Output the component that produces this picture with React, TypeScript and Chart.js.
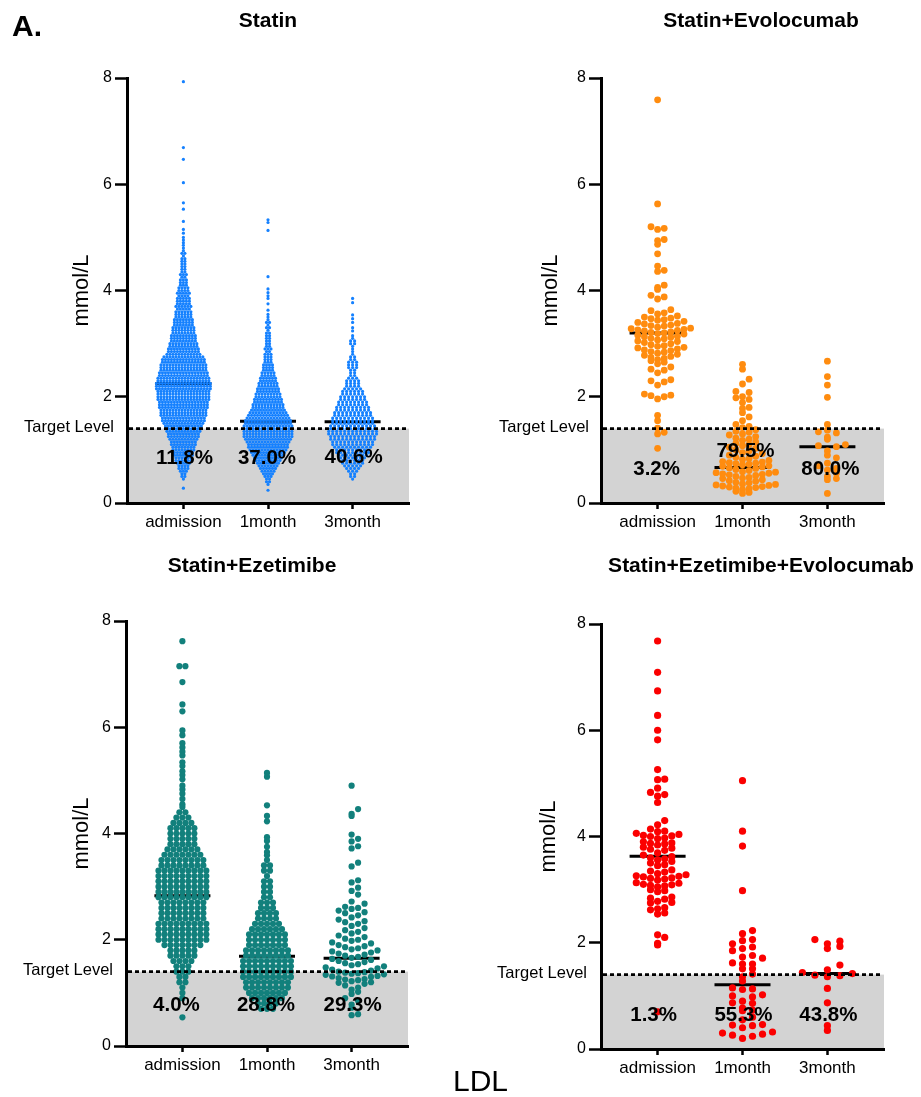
import React, { useEffect, useRef } from 'react';
import { Chart, registerables } from 'chart.js';

Chart.register(...registerables);

const FONT = '"Liberation Sans", Arial, Helvetica, sans-serif';

// ---------- shared axis data ----------
const categories = ['admission', '1month', '3month'];
const yTickValues = [0, 2, 4, 6, 8];
const targetLevel = 1.4;
const panelTitles = ['Statin', 'Statin+Evolocumab', 'Statin+Ezetimibe', 'Statin+Ezetimibe+Evolocumab'];

// ---------- Statin (dense: [value mmol/L, number of dots at that level]) ----------
const statinAdmission: [number, number][] = [
  [7.93, 1], [6.69, 1], [6.47, 1], [6.03, 1], [5.65, 1], [5.53, 1], [5.3, 1], [5.15, 1], [5.08, 1], [5.0, 1], [4.95, 1], [4.9, 1], [4.85, 1],
  [4.8, 1], [4.75, 1], [4.7, 2], [4.65, 1], [4.6, 2], [4.55, 2], [4.5, 2], [4.45, 2], [4.4, 2], [4.35, 2], [4.3, 3], [4.25, 2], [4.2, 3],
  [4.15, 3], [4.1, 3], [4.05, 4], [4.0, 4], [3.95, 5], [3.9, 4], [3.85, 5], [3.8, 5], [3.75, 5], [3.7, 6], [3.65, 5], [3.6, 6], [3.55, 6],
  [3.5, 6], [3.45, 7], [3.4, 7], [3.35, 7], [3.3, 8], [3.25, 8], [3.2, 8], [3.15, 9], [3.1, 9], [3.05, 9], [3.0, 10], [2.95, 10], [2.9, 11],
  [2.85, 11], [2.8, 12], [2.75, 14], [2.7, 15], [2.65, 15], [2.6, 16], [2.55, 16], [2.5, 16], [2.45, 17], [2.4, 17], [2.35, 18], [2.3, 18],
  [2.25, 19], [2.2, 19], [2.15, 19], [2.1, 18], [2.05, 18], [2.0, 18], [1.95, 18], [1.9, 17], [1.85, 17], [1.8, 17], [1.75, 16], [1.7, 16],
  [1.65, 16], [1.6, 15], [1.55, 15], [1.5, 14], [1.45, 13], [1.4, 13], [1.35, 12], [1.3, 11], [1.25, 11], [1.2, 10], [1.15, 9], [1.1, 9],
  [1.05, 8], [1.0, 8], [0.95, 7], [0.9, 7], [0.85, 6], [0.8, 6], [0.75, 5], [0.7, 4], [0.65, 4], [0.6, 3], [0.55, 2], [0.5, 2], [0.45, 1], [0.28, 1],
];
const statin1Month: [number, number][] = [
  [5.33, 1], [5.28, 1], [5.13, 1], [4.26, 1], [4.03, 1], [3.96, 1], [3.9, 1], [3.85, 1], [3.75, 1], [3.63, 1], [3.55, 1],
  [3.5, 1], [3.45, 1], [3.4, 2], [3.35, 1], [3.3, 2], [3.25, 1], [3.2, 2], [3.15, 2], [3.1, 2], [3.05, 2], [3.0, 2], [2.95, 2], [2.9, 3],
  [2.85, 2], [2.8, 3], [2.75, 3], [2.7, 3], [2.65, 3], [2.6, 4], [2.55, 4], [2.5, 4], [2.45, 5], [2.4, 5], [2.35, 6], [2.3, 6], [2.25, 7],
  [2.2, 7], [2.15, 8], [2.1, 8], [2.05, 9], [2.0, 9], [1.95, 10], [1.9, 10], [1.85, 11], [1.8, 11], [1.75, 12], [1.7, 13], [1.65, 14],
  [1.6, 15], [1.55, 16], [1.5, 16], [1.45, 17], [1.4, 17], [1.35, 17], [1.3, 17], [1.25, 17], [1.2, 16], [1.15, 15], [1.1, 14], [1.05, 14],
  [1.0, 13], [0.95, 12], [0.9, 11], [0.85, 10], [0.8, 9], [0.75, 8], [0.7, 7], [0.65, 6], [0.6, 5], [0.55, 4], [0.5, 3], [0.45, 2],
  [0.4, 2], [0.35, 1], [0.24, 1],
];
const statin3Month: [number, number][] = [
  [3.85, 1], [3.77, 1], [3.54, 1], [3.47, 1], [3.4, 1], [3.3, 1], [3.24, 1], [3.15, 1], [3.1, 1], [3.05, 2], [3.0, 2], [2.95, 1], [2.9, 1],
  [2.85, 1], [2.8, 1], [2.75, 2], [2.7, 2], [2.65, 3], [2.6, 3], [2.55, 3], [2.5, 2], [2.45, 2], [2.4, 2], [2.35, 3], [2.3, 4], [2.25, 4],
  [2.2, 4], [2.15, 5], [2.1, 6], [2.05, 6], [2.0, 7], [1.95, 7], [1.9, 8], [1.85, 8], [1.8, 9], [1.75, 9], [1.7, 10], [1.65, 10], [1.6, 11],
  [1.55, 11], [1.5, 11], [1.45, 12], [1.4, 12], [1.35, 13], [1.3, 13], [1.25, 12], [1.2, 12], [1.15, 11], [1.1, 11], [1.05, 10], [1.0, 9],
  [0.95, 9], [0.9, 8], [0.85, 7], [0.8, 6], [0.75, 6], [0.7, 5], [0.65, 4], [0.6, 3], [0.55, 2], [0.5, 2], [0.45, 1],
];
const statinMedians = [2.25, 1.54, 1.53];
const statinPercents = ['11.8%', '37.0%', '40.6%'];

// ---------- Statin+Evolocumab (individual values) ----------
const evoAdmission = [
  7.59, 5.63, 5.2, 5.17, 5.15, 4.96, 4.94, 4.87, 4.69, 4.46, 4.38, 4.36, 4.1, 4.06, 4.02, 3.91, 3.88, 3.84, 3.64, 3.62, 3.58, 3.56,
  3.52, 3.5, 3.48, 3.47, 3.45, 3.44, 3.42, 3.4, 3.38, 3.37, 3.35, 3.34, 3.33, 3.31,
  3.29, 3.28, 3.27, 3.26, 3.25, 3.24, 3.22, 3.21, 3.2, 3.19, 3.18, 3.16,
  3.14, 3.13, 3.12, 3.1, 3.09, 3.07, 3.05, 3.04, 3.02, 3.0,
  2.98, 2.96, 2.95, 2.93, 2.92, 2.9, 2.88, 2.87, 2.85, 2.84, 2.82, 2.8,
  2.78, 2.76, 2.74, 2.72, 2.7, 2.68, 2.65, 2.62,
  2.56, 2.52, 2.5, 2.45, 2.32, 2.3, 2.28, 2.22, 2.05, 2.03, 2.02, 2.0, 1.96,
  1.65, 1.55, 1.41, 1.33, 1.3, 1.03,
];
const evo1Month = [
  2.61, 2.52, 2.33, 2.24, 2.1, 2.08, 2.0, 1.98, 1.95, 1.89, 1.8, 1.78, 1.7, 1.62, 1.55, 1.48, 1.44, 1.42,
  1.38, 1.35, 1.33, 1.3, 1.28, 1.25, 1.22, 1.2, 1.18, 1.15, 1.12, 1.1, 1.08, 1.05, 1.03, 1.0,
  0.98, 0.95, 0.93, 0.9, 0.88, 0.86, 0.84, 0.82, 0.8, 0.78, 0.77, 0.76, 0.75, 0.74, 0.73, 0.72, 0.7, 0.69, 0.68, 0.66, 0.65, 0.63, 0.61,
  0.59, 0.58, 0.57, 0.56, 0.55, 0.54, 0.53, 0.52, 0.5, 0.48, 0.47, 0.46, 0.44, 0.42, 0.41,
  0.39, 0.38, 0.36, 0.35, 0.34, 0.33, 0.32, 0.31, 0.3, 0.29, 0.28, 0.27, 0.25, 0.22, 0.2, 0.18,
];
const evo3Month = [
  2.67, 2.38, 2.22, 1.99, 1.48, 1.37, 1.34, 1.32, 1.24, 1.2, 1.1, 1.08, 1.06, 0.98, 0.9, 0.85, 0.75, 0.7, 0.65, 0.62, 0.56, 0.5, 0.46, 0.44, 0.18,
];
const evoMedians = [3.2, 0.67, 1.06];
const evoPercents = ['3.2%', '79.5%', '80.0%'];

// ---------- Statin+Ezetimibe ----------
const ezeAdmission: [number, number][] = [
  [7.62, 1], [7.15, 2], [6.85, 1], [6.43, 1], [6.3, 1], [5.94, 1], [5.85, 1], [5.7, 1], [5.62, 1], [5.54, 1], [5.47, 1], [5.34, 1],
  [5.27, 1], [5.17, 1], [5.1, 1], [5.02, 1], [4.9, 1], [4.83, 1], [4.75, 1], [4.65, 1], [4.55, 1], [4.5, 1],
  [4.4, 2], [4.3, 3], [4.2, 4], [4.1, 5], [4.0, 5], [3.9, 5], [3.8, 5], [3.7, 6], [3.6, 7], [3.5, 8], [3.4, 8], [3.3, 9], [3.2, 9],
  [3.1, 9], [3.0, 9], [2.9, 9], [2.8, 9], [2.7, 8], [2.6, 8], [2.5, 8], [2.4, 8], [2.3, 9], [2.2, 9], [2.1, 9], [2.0, 9], [1.9, 7],
  [1.8, 5], [1.7, 5], [1.6, 4], [1.5, 3], [1.4, 3], [1.3, 2], [1.2, 2], [1.1, 1], [1.0, 1], [0.9, 1], [0.54, 1],
];
const eze1Month: [number, number][] = [
  [5.14, 1], [5.07, 1], [4.53, 1], [4.33, 1], [4.23, 1], [3.93, 1], [3.86, 1], [3.75, 1], [3.65, 1], [3.59, 1],
  [3.5, 1], [3.4, 2], [3.3, 2], [3.2, 1], [3.1, 2], [3.0, 2], [2.9, 2], [2.8, 2], [2.7, 3], [2.6, 3], [2.5, 4], [2.4, 4], [2.3, 5],
  [2.2, 6], [2.1, 7], [2.0, 7], [1.9, 7], [1.8, 8], [1.7, 8], [1.6, 9], [1.5, 9], [1.4, 9], [1.3, 9], [1.2, 8], [1.1, 8], [1.0, 7],
  [0.9, 6], [0.8, 4], [0.7, 3],
];
const eze3Month = [
  4.9, 4.46, 4.37, 4.33, 3.98, 3.9, 3.85, 3.76, 3.72, 3.45, 3.38, 3.12, 3.08, 2.98, 2.92, 2.85,
  2.72, 2.68, 2.62, 2.6, 2.58, 2.55, 2.52, 2.5, 2.46, 2.42, 2.38, 2.35, 2.33, 2.3, 2.26, 2.22,
  2.18, 2.15, 2.12, 2.08, 2.05, 2.02, 2.0, 1.98, 1.95, 1.93, 1.9, 1.88, 1.86, 1.84, 1.82, 1.8,
  1.78, 1.76, 1.74, 1.72, 1.7, 1.68, 1.66, 1.64, 1.62, 1.6, 1.58, 1.56, 1.54, 1.52, 1.5, 1.48, 1.46, 1.44, 1.42, 1.4,
  1.39, 1.38, 1.37, 1.36, 1.35, 1.34, 1.32, 1.31, 1.3, 1.28, 1.26, 1.25, 1.24, 1.22, 1.2, 1.19, 1.17, 1.14, 1.1, 1.06, 1.02,
  0.98, 0.9, 0.85, 0.78, 0.72, 0.6, 0.58,
];
const ezeMedians = [2.83, 1.69, 1.65];
const ezePercents = ['4.0%', '28.8%', '29.3%'];

// ---------- Statin+Ezetimibe+Evolocumab ----------
const tripleAdmission = [
  7.68, 7.09, 6.74, 6.28, 6.0, 5.82, 5.26, 5.08, 5.07, 4.91, 4.83, 4.79, 4.76, 4.64, 4.3, 4.22,
  4.14, 4.1, 4.09, 4.06, 4.04, 4.02, 4.01, 4.0, 3.97, 3.96, 3.9, 3.88, 3.87, 3.86, 3.84,
  3.8, 3.78, 3.76, 3.74, 3.69, 3.65, 3.62, 3.6, 3.58, 3.56, 3.53, 3.5, 3.47, 3.45, 3.37, 3.35, 3.33, 3.3,
  3.28, 3.26, 3.25, 3.24, 3.22, 3.21, 3.2, 3.18, 3.13, 3.12, 3.1, 3.09, 3.08, 3.07, 3.05, 3.0, 2.98, 2.96,
  2.86, 2.84, 2.82, 2.78, 2.76, 2.75, 2.66, 2.64, 2.62, 2.56, 2.54, 2.15, 2.1, 1.99, 1.96, 0.7,
];
const triple1Month = [
  5.05, 4.1, 3.82, 2.98, 2.23, 2.17, 2.06, 2.04, 1.98, 1.92, 1.89, 1.85, 1.76, 1.73, 1.71, 1.62, 1.6, 1.6, 1.51, 1.51, 1.41,
  1.36, 1.28, 1.15, 1.13, 1.12, 1.02, 1.0, 0.98, 0.9, 0.87, 0.86, 0.77, 0.73, 0.72, 0.6, 0.55, 0.46, 0.45, 0.44, 0.4,
  0.32, 0.3, 0.28, 0.26, 0.24, 0.2,
];
const triple3Month = [2.06, 2.03, 1.98, 1.93, 1.89, 1.58, 1.49, 1.44, 1.42, 1.39, 1.38, 1.36, 1.14, 0.87, 0.44, 0.35];
const tripleMedians = [3.63, 1.21, 1.42];
const triplePercents = ['1.3%', '55.3%', '43.8%'];

// ---------- layout helpers (placement only) ----------
const PX_PER_Y = 425 / 8;
const PX_PER_CAT = 283 / (10 / 3);

type Pt = { x: number; y: number };

// dense groups: a centred row of dots at each read level
function rowLayout(pairs: [number, number][], cat: number, spacing: number): Pt[] {
  const pts: Pt[] = [];
  for (const [v, n] of pairs) {
    for (let i = 0; i < n; i++) {
      pts.push({ x: cat + ((i - (n - 1) / 2) * spacing) / PX_PER_CAT, y: v });
    }
  }
  return pts;
}

// sparse groups: GraphPad-like binned scatter (centre, right, left, ...)
function binLayout(values: number[], cat: number, h: number, sp: number, off: number): Pt[] {
  const bins = new Map<number, number[]>();
  for (const v of values) {
    const k = Math.floor((v * PX_PER_Y - off) / h);
    if (!bins.has(k)) bins.set(k, []);
    bins.get(k)!.push(v);
  }
  const out: Pt[] = [];
  bins.forEach((vals) => {
    vals.sort((a, b) => a - b);
    vals.forEach((v, i) => {
      const slot = i === 0 ? 0 : i % 2 === 1 ? (i + 1) / 2 : -i / 2;
      out.push({ x: cat + (slot * sp) / PX_PER_CAT, y: v });
    });
  });
  return out;
}

type Group =
  | { kind: 'rows'; data: [number, number][]; spacing: number }
  | { kind: 'bins'; data: number[]; h: number; sp: number; off?: number };

interface Panel {
  canvas: { left: number; top: number; w: number; h: number };
  area: { l: number; r: number; t: number; b: number };
  title: string;
  titleX: number;
  titleY: number;
  color: string;
  radius: number;
  groups: Group[];
  medians: number[];
  percents: string[];
  pctY: number[];
  pctDx: number[];
  yTitleDx: number;
  targetDx: number;
}

const panels: Panel[] = [
  {
    canvas: { left: 0, top: 0, w: 460, h: 540 },
    area: { l: 127, r: 409, t: 78, b: 503 },
    title: panelTitles[0], titleX: 268, titleY: 21,
    color: '#1581ff', radius: 1.6,
    groups: [
      { kind: 'rows', data: statinAdmission, spacing: 3 },
      { kind: 'rows', data: statin1Month, spacing: 3 },
      { kind: 'rows', data: statin3Month, spacing: 4 },
    ],
    medians: statinMedians, percents: statinPercents,
    pctY: [0.84, 0.84, 0.86], pctDx: [1, -1, 1], yTitleDx: -45, targetDx: -13,
  },
  {
    canvas: { left: 460, top: 0, w: 461, h: 540 },
    area: { l: 601, r: 884, t: 78, b: 503 },
    title: panelTitles[1], titleX: 761, titleY: 21,
    color: '#ff8c0f', radius: 3.4,
    groups: [
      { kind: 'bins', data: evoAdmission, h: 6.5, sp: 6.6 },
      { kind: 'bins', data: evo1Month, h: 6.2, sp: 6.6 },
      { kind: 'bins', data: evo3Month, h: 6.5, sp: 9 },
    ],
    medians: evoMedians, percents: evoPercents,
    pctY: [0.64, 0.98, 0.64], pctDx: [-1, 3, 3], yTitleDx: -50, targetDx: -12,
  },
  {
    canvas: { left: 0, top: 540, w: 460, h: 557 },
    area: { l: 126, r: 408, t: 621, b: 1046 },
    title: panelTitles[2], titleX: 252, titleY: 566,
    color: '#12807c', radius: 3.1,
    groups: [
      { kind: 'rows', data: ezeAdmission, spacing: 6 },
      { kind: 'rows', data: eze1Month, spacing: 6 },
      { kind: 'bins', data: eze3Month, h: 8, sp: 6.5 },
    ],
    medians: ezeMedians, percents: ezePercents,
    pctY: [0.77, 0.77, 0.77], pctDx: [-6, -1, 1], yTitleDx: -44, targetDx: -13,
  },
  {
    canvas: { left: 460, top: 540, w: 461, h: 557 },
    area: { l: 601, r: 884, t: 624, b: 1049 },
    title: panelTitles[3], titleX: 761, titleY: 566,
    color: '#fb0000', radius: 3.6,
    groups: [
      { kind: 'bins', data: tripleAdmission, h: 7, sp: 7.1 },
      { kind: 'bins', data: triple1Month, h: 7.4, sp: 10, off: 10.1 },
      { kind: 'bins', data: triple3Month, h: 7, sp: 12.5 },
    ],
    medians: tripleMedians, percents: triplePercents,
    pctY: [0.64, 0.64, 0.64], pctDx: [-4, 1, 1], yTitleDx: -52, targetDx: -14,
  },
];

function makeChart(canvas: HTMLCanvasElement, p: Panel): Chart {
  const cl = p.canvas.left;
  const ct = p.canvas.top;
  const pts: Pt[] = [];
  p.groups.forEach((g, i) => {
    const arr = g.kind === 'rows' ? rowLayout(g.data, i, g.spacing) : binLayout(g.data, i, g.h, g.sp, g.off || 0);
    pts.push(...arr);
  });

  const decor = {
    id: 'decor',
    beforeDraw(chart: any) {
      const { ctx, chartArea: a, scales } = chart;
      const yT = scales.y.getPixelForValue(targetLevel);
      ctx.save();
      ctx.fillStyle = '#d3d3d3';
      ctx.fillRect(a.left, yT, a.right - a.left, a.bottom - yT);
      ctx.restore();
    },
    beforeDatasetsDraw(chart: any) {
      const { ctx, scales } = chart;
      ctx.save();
      ctx.strokeStyle = '#000';
      ctx.lineWidth = 3;
      p.medians.forEach((m, i) => {
        const x = scales.x.getPixelForValue(i);
        const y = scales.y.getPixelForValue(m);
        ctx.beginPath();
        ctx.moveTo(x - 28, y);
        ctx.lineTo(x + 28, y);
        ctx.stroke();
      });
      ctx.restore();
    },
    afterDatasetsDraw(chart: any) {
      const { ctx, chartArea: a, scales } = chart;
      const yT = scales.y.getPixelForValue(targetLevel);
      ctx.save();
      ctx.strokeStyle = '#000';
      ctx.lineWidth = 2.6;
      ctx.setLineDash([4, 3]);
      ctx.beginPath();
      ctx.moveTo(a.left + 2, yT);
      ctx.lineTo(a.right - 2, yT);
      ctx.stroke();
      ctx.setLineDash([]);
      ctx.fillStyle = '#000';
      ctx.font = `bold 20.5px ${FONT}`;
      ctx.textAlign = 'center';
      ctx.textBaseline = 'middle';
      p.percents.forEach((t, i) => {
        ctx.fillText(t, scales.x.getPixelForValue(i) + p.pctDx[i], scales.y.getPixelForValue(p.pctY[i]));
      });
      ctx.restore();
    },
    afterDraw(chart: any) {
      const { ctx, chartArea: a, scales } = chart;
      ctx.save();
      ctx.fillStyle = '#000';
      ctx.textAlign = 'center';
      ctx.textBaseline = 'middle';
      ctx.font = `bold 21px ${FONT}`;
      ctx.fillText(p.title, p.titleX - cl, p.titleY - ct);
      ctx.save();
      ctx.translate(a.left + p.yTitleDx, (a.top + a.bottom) / 2);
      ctx.rotate(-Math.PI / 2);
      ctx.font = `22px ${FONT}`;
      ctx.fillText('mmol/L', 0, 0);
      ctx.restore();
      ctx.font = `16.5px ${FONT}`;
      ctx.textAlign = 'right';
      ctx.fillText('Target Level', a.left + p.targetDx, scales.y.getPixelForValue(targetLevel) - 1);
      ctx.restore();
    },
  };

  const yWidth = p.area.l - cl;
  const xHeight = ct + p.canvas.h - p.area.b;

  return new Chart(canvas, {
    type: 'scatter',
    data: {
      datasets: [
        {
          data: pts,
          pointRadius: p.radius,
          pointHoverRadius: p.radius,
          pointBackgroundColor: p.color,
          pointBorderColor: p.color,
          pointBorderWidth: 0,
          showLine: false,
        } as any,
      ],
    },
    options: {
      responsive: false,
      animation: false,
      devicePixelRatio: 1,
      events: [],
      layout: {
        padding: { left: 0, top: p.area.t - ct, right: cl + p.canvas.w - p.area.r, bottom: 0 },
      },
      plugins: { legend: { display: false }, tooltip: { enabled: false }, title: { display: false } },
      scales: {
        x: {
          type: 'linear',
          min: -2 / 3,
          max: 8 / 3,
          bounds: 'data',
          afterBuildTicks: (s: any) => {
            s.ticks = categories.map((_, i) => ({ value: i }));
          },
          afterFit: (s: any) => {
            s.height = xHeight;
          },
          ticks: {
            autoSkip: false,
            maxRotation: 0,
            padding: 3,
            color: '#000',
            font: { family: FONT, size: 17 },
            callback: (_v: any, i: number) => categories[i],
          },
          grid: { drawOnChartArea: false, drawTicks: true, tickLength: 6, tickWidth: 2.5, tickColor: '#000' },
          border: { display: true, width: 3, color: '#000' },
        },
        y: {
          type: 'linear',
          min: 0,
          max: 8,
          bounds: 'data',
          afterBuildTicks: (s: any) => {
            s.ticks = yTickValues.map((v) => ({ value: v }));
          },
          afterFit: (s: any) => {
            s.width = yWidth;
          },
          ticks: {
            padding: 3,
            color: '#000',
            font: { family: FONT, size: 16 },
            callback: (v: any) => String(v),
          },
          grid: { drawOnChartArea: false, drawTicks: true, tickLength: 12, tickWidth: 2.5, tickColor: '#000' },
          border: { display: true, width: 3, color: '#000' },
        },
      },
    } as any,
    plugins: [decor],
  });
}

export default function App() {
  const refs = [useRef<HTMLCanvasElement>(null), useRef<HTMLCanvasElement>(null), useRef<HTMLCanvasElement>(null), useRef<HTMLCanvasElement>(null)];

  useEffect(() => {
    const charts: Chart[] = [];
    panels.forEach((p, i) => {
      const c = refs[i].current;
      if (c) charts.push(makeChart(c, p));
    });
    return () => charts.forEach((c) => c.destroy());
  }, []);

  return (
    <div style={{ position: 'absolute', left: 0, top: 0, width: 921, height: 1097, background: '#fff', overflow: 'hidden' }}>
      {panels.map((p, i) => (
        <canvas
          key={i}
          ref={refs[i]}
          width={p.canvas.w}
          height={p.canvas.h}
          style={{ position: 'absolute', left: p.canvas.left, top: p.canvas.top, width: p.canvas.w, height: p.canvas.h }}
        />
      ))}
      <div style={{ position: 'absolute', left: 12, top: 11, fontFamily: FONT, fontWeight: 'bold', fontSize: 30, lineHeight: '30px', color: '#000' }}>
        A.
      </div>
      <div style={{ position: 'absolute', left: 453, top: 1066, fontFamily: FONT, fontSize: 30, lineHeight: '30px', color: '#000' }}>
        LDL
      </div>
    </div>
  );
}
